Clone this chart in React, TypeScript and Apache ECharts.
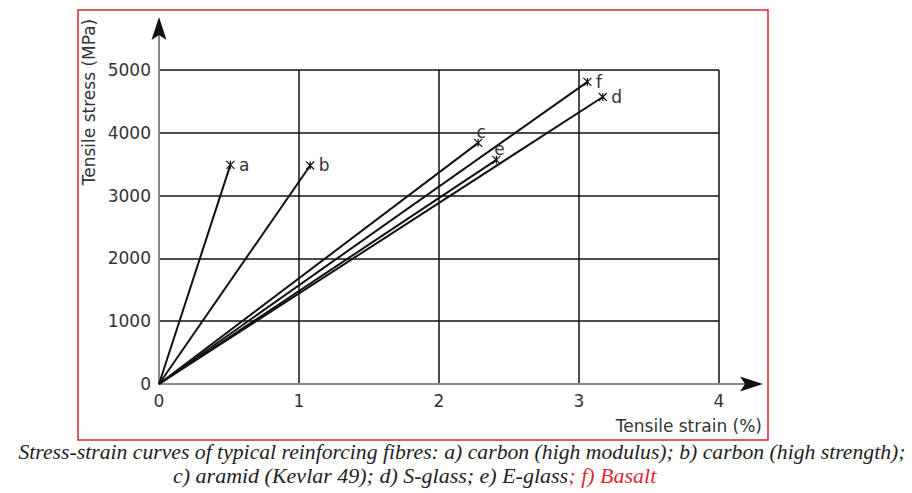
import React, { useEffect, useRef } from "react";
import * as echarts from "echarts";

const fibreNames = ["a", "b", "c", "d", "e", "f"];
const failureStrain = [0.51, 1.08, 2.28, 3.17, 2.41, 3.06];
const failureStress = [3490, 3480, 3840, 4570, 3570, 4810];
const labelPositions = ["right", "right", "top", "right", "top", "right"];
const xTicks = [0, 1, 2, 3, 4];
const yTicks = [0, 1000, 2000, 3000, 4000, 5000];
const captionLine1 =
  "Stress-strain curves of typical reinforcing fibres: a) carbon (high modulus); b) carbon (high strength);";
const captionLine2a = "c) aramid (Kevlar 49); d) S-glass; e) E-glass";
const captionLine2b = "; f) Basalt";

const FONT = "DejaVu Sans";
const TXT = "#333";
const CAP_FONT = `italic 20px "Liberation Serif"`;

export default function App() {
  const ref = useRef<HTMLDivElement>(null);
  useEffect(() => {
    if (!ref.current) return;
    const chart = echarts.init(ref.current, null, { renderer: "svg" });
    const xMax = xTicks[xTicks.length - 1];
    const yMax = yTicks[yTicks.length - 1];
    const series = fibreNames.map((n, i) => ({
      type: "line",
      name: n,
      data: [
        { value: [0, 0], symbol: "none" },
        {
          value: [failureStrain[i], failureStress[i]],
          label: {
            show: true,
            formatter: n,
            position: labelPositions[i],
            distance: labelPositions[i] === "top" ? 0 : 2,
            offset: labelPositions[i] === "top" ? [3, 4] : [0, 0],
            fontFamily: FONT,
            fontSize: 17,
            color: TXT,
          },
        },
      ],
      symbol: "path://M0,0L10,10M10,0L0,10M5,0L5,10",
      symbolSize: 8,
      itemStyle: { color: "none", borderColor: "#111", borderWidth: 1.2 },
      lineStyle: { color: "#111", width: 2 },
      z: 5,
    }));
    const option: any = {
      animation: false,
      backgroundColor: "#fff",
      grid: { left: 159, right: 193, top: 70, bottom: 109 },
      xAxis: {
        type: "value",
        min: 0,
        max: xMax,
        interval: 1,
        axisLine: { show: true, lineStyle: { color: "#8a8a8a", width: 2 } },
        axisTick: { show: false },
        axisLabel: { fontFamily: FONT, fontSize: 17, color: TXT, margin: 8, formatter: (v: number) => String(v) },
        splitLine: { show: true, showMinLine: false, lineStyle: { color: "#111", width: 1.5 } },
      },
      yAxis: {
        type: "value",
        min: 0,
        max: yMax,
        interval: 1000,
        axisLine: { show: true, lineStyle: { color: "#8a8a8a", width: 2 } },
        axisTick: { show: false },
        axisLabel: { fontFamily: FONT, fontSize: 17, color: TXT, margin: 8, formatter: (v: number) => String(v) },
        splitLine: { show: true, showMinLine: false, lineStyle: { color: "#111", width: 1.5 } },
      },
      series,
    };
    chart.setOption(option);
    const o = chart.convertToPixel({ gridIndex: 0 }, [0, 0]) as number[];
    const xr = chart.convertToPixel({ gridIndex: 0 }, [xMax, 0]) as number[];
    const yt = chart.convertToPixel({ gridIndex: 0 }, [0, yMax]) as number[];
    const yTip = yt[1] - 53;
    const xTip = xr[0] + 44;
    chart.setOption({
      graphic: [
        {
          type: "rect",
          shape: { x: 78, y: 10, width: 690, height: 430 },
          style: { fill: "none", stroke: "#d8262f", lineWidth: 1.5 },
          silent: true,
        },
        {
          type: "line",
          shape: { x1: o[0], y1: yt[1], x2: o[0], y2: yTip + 10 },
          style: { stroke: "#8a8a8a", lineWidth: 2 },
        },
        {
          type: "polygon",
          shape: {
            points: [
              [o[0], yTip],
              [o[0] - 7.5, yTip + 23],
              [o[0], yTip + 18],
              [o[0] + 7.5, yTip + 23],
            ],
          },
          style: { fill: "#111" },
        },
        {
          type: "line",
          shape: { x1: xr[0], y1: o[1], x2: xTip - 10, y2: o[1] },
          style: { stroke: "#8a8a8a", lineWidth: 2 },
        },
        {
          type: "polygon",
          shape: {
            points: [
              [xTip, o[1]],
              [xTip - 23, o[1] - 7.5],
              [xTip - 18, o[1]],
              [xTip - 23, o[1] + 7.5],
            ],
          },
          style: { fill: "#111" },
        },
        {
          type: "text",
          x: 89,
          y: 102,
          rotation: Math.PI / 2,
          style: {
            text: "Tensile stress (MPa)",
            font: `17px "${FONT}"`,
            fill: TXT,
            align: "center",
            verticalAlign: "middle",
          },
        },
        {
          type: "text",
          x: 762,
          y: 426,
          style: {
            text: "Tensile strain (%)",
            font: `17px "${FONT}"`,
            fill: TXT,
            align: "right",
            verticalAlign: "middle",
          },
        },
        {
          type: "text",
          x: 462,
          y: 452,
          scaleX: 1.085,
          style: {
            text: captionLine1,
            font: CAP_FONT,
            fill: "#222",
            align: "center",
            verticalAlign: "middle",
          },
        },
        {
          type: "text",
          x: 173,
          y: 476,
          scaleX: 1.1,
          style: {
            text: `{k|${captionLine2a}}{r|${captionLine2b}}`,
            font: CAP_FONT,
            align: "left",
            verticalAlign: "middle",
            rich: {
              k: { fill: "#222", font: CAP_FONT },
              r: { fill: "#e0282e", font: CAP_FONT },
            },
          },
        },
      ],
    });
    return () => chart.dispose();
  }, []);
  return <div ref={ref} style={{ width: 912, height: 493, position: "absolute", left: 0, top: 0 }} />;
}
